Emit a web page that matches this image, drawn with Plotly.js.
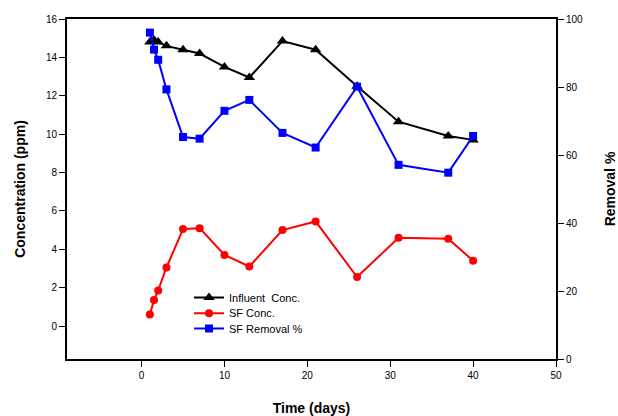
<!DOCTYPE html>
<html>
<head>
<meta charset="utf-8">
<script src="https://cdn.plot.ly/plotly-3.0.1.min.js"></script>
<style>html,body{margin:0;padding:0;background:#fff;}#chart{width:618px;height:416px;}</style>
</head>
<body>
<div id="chart"></div>
<script>
// Data
const days = [1, 1.5, 2, 3, 5, 7, 10, 13, 17, 21, 26, 31, 37, 40];
const influentConc = [14.8, 14.9, 14.8, 14.6, 14.4, 14.2, 13.5, 12.95, 14.85, 14.4, 12.5, 10.65, 9.9, 9.7];
const sfConc = [0.6, 1.35, 1.85, 3.05, 5.05, 5.1, 3.7, 3.1, 5.0, 5.45, 2.55, 4.6, 4.55, 3.4];
const sfRemoval = [96, 91, 88, 79.3, 65.3, 64.8, 73, 76.2, 66.5, 62.2, 80.1, 57.1, 54.8, 65.6];
const xTicks = [0, 10, 20, 30, 40, 50];
const yLeftTicks = [0, 2, 4, 6, 8, 10, 12, 14, 16];
const yRightTicks = [0, 20, 40, 60, 80, 100];

const FONT = 'Liberation Sans, Arial, sans-serif';

const traces = [
  {
    x: days, y: influentConc, name: 'Influent  Conc.', type: 'scatter', mode: 'lines+markers',
    line: {color: '#000000', width: 2},
    marker: {symbol: 'triangle-up', size: 10, color: '#000000'},
    yaxis: 'y', legend: 'legend'
  },
  {
    x: days, y: sfConc, name: 'SF Conc.', type: 'scatter', mode: 'lines+markers',
    line: {color: '#ff0000', width: 2},
    marker: {symbol: 'circle', size: 8, color: '#ff0000'},
    yaxis: 'y', legend: 'legend2'
  },
  {
    x: days, y: sfRemoval, name: 'SF Removal %', type: 'scatter', mode: 'lines+markers',
    line: {color: '#0000ff', width: 2},
    marker: {symbol: 'square', size: 8, color: '#0000ff'},
    yaxis: 'y2', legend: 'legend3'
  }
];

function legendAt(y) {
  return {
    x: 0.2495, y: y, xanchor: 'left', yanchor: 'top',
    bgcolor: 'rgba(0,0,0,0)', borderwidth: 0,
    font: {family: FONT, size: 11, color: '#000000'}
  };
}

const layout = {
  width: 618, height: 416,
  margin: {l: 67, r: 62, t: 19, b: 57, pad: 0},
  paper_bgcolor: '#ffffff', plot_bgcolor: '#ffffff',
  font: {family: FONT, size: 10, color: '#000000'},
  showlegend: true,
  legend: legendAt(0.2235),
  legend2: legendAt(0.1774),
  legend3: legendAt(0.1324),
  xaxis: {
    range: [-9, 50], tickvals: xTicks, ticktext: xTicks.map(String),
    showgrid: false, zeroline: false, showline: true, mirror: true,
    linecolor: '#000000', linewidth: 2,
    ticks: 'outside', ticklen: 6, tickwidth: 1, tickcolor: '#000000',
    tickfont: {family: FONT, size: 10, color: '#000000'},
    title: {text: 'Time (days)', font: {family: FONT, size: 14, color: '#000000', weight: 'bold'}, standoff: 23}
  },
  yaxis: {
    range: [-1.72, 16], tickvals: yLeftTicks, ticktext: yLeftTicks.map(String),
    showgrid: false, zeroline: false, showline: true,
    linecolor: '#000000', linewidth: 2,
    ticks: 'outside', ticklen: 6, tickwidth: 1, tickcolor: '#000000',
    tickfont: {family: FONT, size: 10, color: '#000000'},
    title: {text: 'Concentration (ppm)', font: {family: FONT, size: 14, color: '#000000', weight: 'bold'}, standoff: 17}
  },
  yaxis2: {
    range: [0, 100], tickvals: yRightTicks, ticktext: yRightTicks.map(String),
    overlaying: 'y', side: 'right',
    showgrid: false, zeroline: false, showline: true,
    linecolor: '#000000', linewidth: 2,
    ticks: 'outside', ticklen: 6, tickwidth: 1, tickcolor: '#000000',
    tickfont: {family: FONT, size: 10, color: '#000000'},
    title: {text: 'Removal %', font: {family: FONT, size: 14, color: '#000000', weight: 'bold'}, standoff: 30}
  }
};

Plotly.newPlot('chart', traces, layout, {displayModeBar: false, staticPlot: true});
</script>
</body>
</html>
